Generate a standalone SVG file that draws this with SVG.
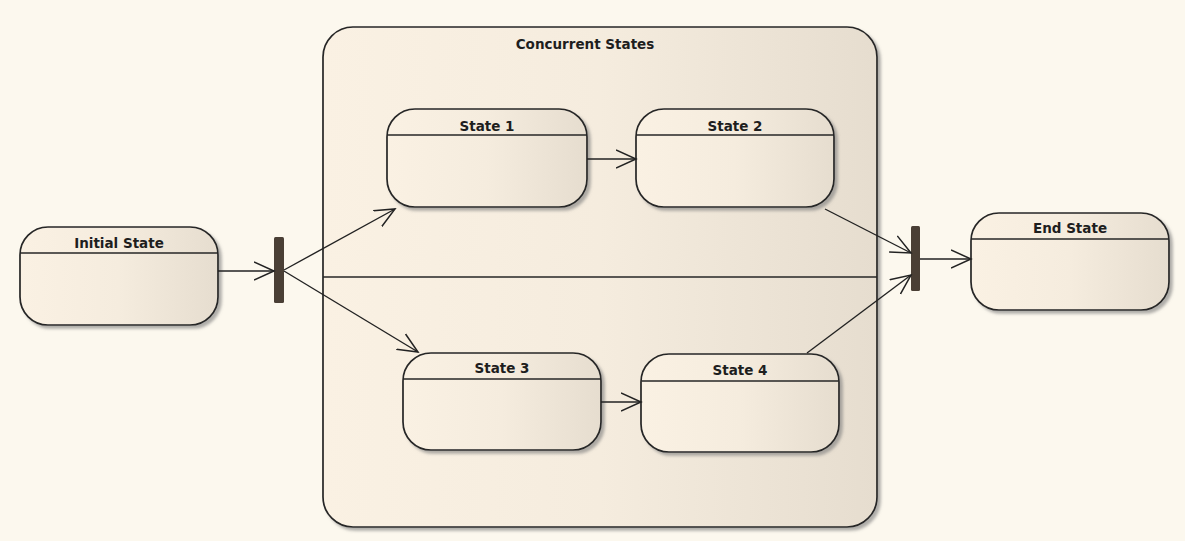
<svg xmlns="http://www.w3.org/2000/svg" width="1185" height="541" viewBox="0 0 1185 541">
  <defs>
    <linearGradient id="fill" x1="0" y1="0" x2="1" y2="0">
      <stop offset="0" stop-color="#FAF1E3"/>
      <stop offset="0.5" stop-color="#F5ECDE"/>
      <stop offset="1" stop-color="#E6DDCF"/>
    </linearGradient>
    <filter id="shadow" x="-10%" y="-10%" width="130%" height="130%">
      <feDropShadow dx="3" dy="3" stdDeviation="1.5" flood-color="#7a7a7a" flood-opacity="0.6"/>
    </filter>
    <marker id="arrow" markerUnits="userSpaceOnUse" markerWidth="24" markerHeight="22" refX="20" refY="10" orient="auto" viewBox="0 0 24 22">
      <path d="M0,1 L20,10 L0,19" fill="none" stroke="#222" stroke-width="1.5"/>
    </marker>
    <style>
      .state { fill: url(#fill); stroke: #262626; stroke-width: 1.7; filter: url(#shadow); }
      .hdr { stroke: #262626; stroke-width: 1.4; }
      .lbl { font-family: "DejaVu Sans", sans-serif; font-weight: bold; font-size: 13.5px; fill: #1e1e1e; text-anchor: middle; }
      .conn { stroke: #222; stroke-width: 1.4; fill: none; marker-end: url(#arrow); }
      .bar { fill: #4A3F35; }
    </style>
  </defs>
  <rect x="0" y="0" width="1185" height="541" fill="#FCF8EE"/>

  <g id="concurrent-states">
    <rect class="state" x="323" y="27" width="554" height="500" rx="30" ry="30"/>
    <line class="hdr" x1="323" y1="277" x2="877" y2="277"/>
    <text class="lbl" x="585" y="49">Concurrent States</text>
  </g>

  <g id="initial-state">
    <rect class="state" x="20" y="227" width="198" height="98" rx="28" ry="28"/>
    <line class="hdr" x1="20.5" y1="253" x2="217.5" y2="253"/>
    <text class="lbl" x="119" y="248">Initial State</text>
  </g>

  <g id="fork">
    <rect class="bar" x="274" y="237" width="10" height="66" rx="1.5"/>
  </g>

  <g id="state-1">
    <rect class="state" x="387" y="109" width="200" height="98" rx="28" ry="28"/>
    <line class="hdr" x1="387.5" y1="135" x2="586.5" y2="135"/>
    <text class="lbl" x="487" y="131">State 1</text>
  </g>

  <g id="state-2">
    <rect class="state" x="636" y="109" width="198" height="98" rx="28" ry="28"/>
    <line class="hdr" x1="636.5" y1="135" x2="833.5" y2="135"/>
    <text class="lbl" x="735" y="131">State 2</text>
  </g>

  <g id="state-3">
    <rect class="state" x="403" y="353" width="198" height="97" rx="28" ry="28"/>
    <line class="hdr" x1="403.5" y1="379" x2="600.5" y2="379"/>
    <text class="lbl" x="502" y="373">State 3</text>
  </g>

  <g id="state-4">
    <rect class="state" x="641" y="354" width="198" height="98" rx="28" ry="28"/>
    <line class="hdr" x1="641.5" y1="381" x2="838.5" y2="381"/>
    <text class="lbl" x="740" y="375">State 4</text>
  </g>

  <g id="join">
    <rect class="bar" x="911" y="226" width="9" height="65" rx="1.5"/>
  </g>

  <g id="end-state">
    <rect class="state" x="971" y="213" width="198" height="97" rx="28" ry="28"/>
    <line class="hdr" x1="971.5" y1="239" x2="1168.5" y2="239"/>
    <text class="lbl" x="1070" y="233">End State</text>
  </g>

  <g id="connectors">
    <line class="conn" x1="218" y1="271" x2="274" y2="271"/>
    <line class="conn" x1="284" y1="270" x2="395" y2="209"/>
    <line class="conn" x1="284" y1="271" x2="418" y2="352"/>
    <line class="conn" x1="587" y1="159" x2="636" y2="159"/>
    <line class="conn" x1="601" y1="402" x2="641" y2="402"/>
    <line class="conn" x1="825" y1="209" x2="911" y2="253"/>
    <line class="conn" x1="807" y1="353" x2="911" y2="275"/>
    <line class="conn" x1="920" y1="259" x2="971" y2="259"/>
  </g>
</svg>
